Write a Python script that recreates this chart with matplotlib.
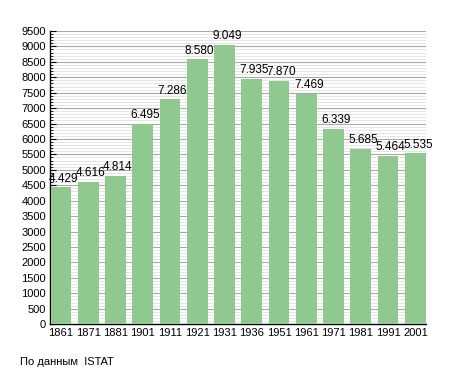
import numpy as np
import matplotlib.pyplot as plt
from matplotlib.ticker import MultipleLocator

anni = ["1861", "1871", "1881", "1901", "1911", "1921", "1931", "1936",
        "1951", "1961", "1971", "1981", "1991", "2001"]
abitanti = [4429, 4616, 4814, 6495, 7286, 8580, 9049, 7935,
            7870, 7469, 6339, 5685, 5464, 5535]
etichette = ["4.429", "4.616", "4.814", "6.495", "7.286", "8.580", "9.049", "7.935",
             "7.870", "7.469", "6.339", "5.685", "5.464", "5.535"]

plt.rcParams['font.family'] = ['Liberation Sans', 'DejaVu Sans']

fig = plt.figure(figsize=(4.55, 3.73), dpi=100)
ax = fig.add_axes([0.110, 0.131, 0.826, 0.786])

xs = np.arange(len(anni))
ax.bar(xs, abitanti, width=0.76, color="#8fc990", zorder=3)

# etichette leggermente spostate a destra come nell'originale
for x, v, t in zip(xs, abitanti, etichette):
    ax.text(x + 0.09, v + 90, t, ha="center", va="bottom", fontsize=8.5, zorder=4)

ax.set_xlim(-0.40, len(anni) - 1 + 0.385)
ax.set_ylim(0, 9500)
ax.yaxis.set_major_locator(MultipleLocator(500))
ax.yaxis.set_minor_locator(MultipleLocator(100))
ax.grid(which="major", axis="y", color="#a8a8a8", linewidth=0.8, zorder=0)
ax.grid(which="minor", axis="y", color="#e0e0e0", linewidth=0.6, zorder=0)

ax.set_xticks(xs)
ax.set_xticklabels(anni)
ax.tick_params(axis="x", length=0, labelsize=8, pad=3)
ax.tick_params(axis="y", which="major", direction="in", length=4, labelsize=8, pad=3)
ax.tick_params(axis="y", which="minor", direction="in", length=2)

for s in ["top", "right"]:
    ax.spines[s].set_visible(False)
ax.spines["left"].set_linewidth(1)
ax.spines["bottom"].set_linewidth(1)

fig.text(20 / 455, 1 - 362 / 373, "По данным  ISTAT", fontsize=8, va="center")

fig.savefig("out.png", dpi=100)
